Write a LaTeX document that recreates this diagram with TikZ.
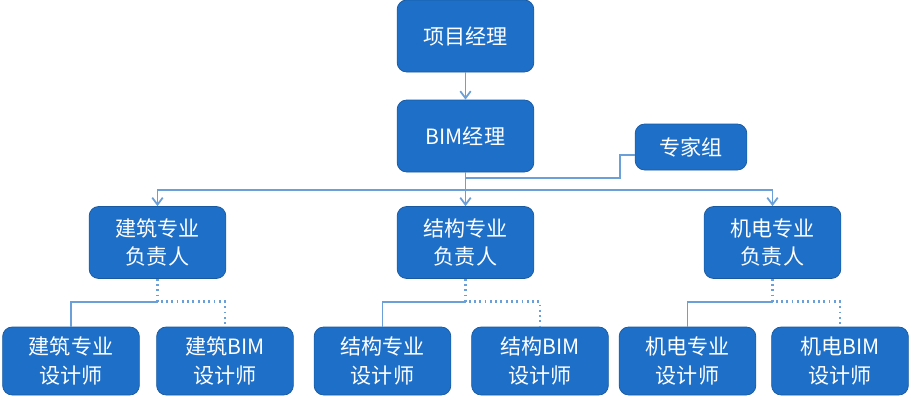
\documentclass[tikz,border=0pt]{standalone}
\usepackage{fontspec}
\setmainfont{Noto Sans CJK SC}
\usetikzlibrary{arrows.meta, calc}
\definecolor{boxblue}{HTML}{1E6FC8}
\definecolor{lineblue}{HTML}{6A9FD8}
\tikzset{
	every node/.style={
		font=\fontsize{12}{16}\selectfont
	},
	chefe/.style={
		shape=rectangle,
		minimum width=2.7cm,
		minimum height=1.44cm,
		text width=2.5cm,
		align=center,
		rounded corners=1ex,
		fill=boxblue,
		draw=boxblue!80!black,
		text=white
	},
	membro/.style={
		chefe,
		minimum width=2.66cm,
		minimum height=1.36cm
	},
	grupo/.style={
		chefe,
		minimum width=2.16cm,
		minimum height=0.92cm,
		text width=2cm
	},
	liga/.style={lineblue, line width=1pt},
	ligaseta/.style={liga, -{Straight Barb[length=4pt,width=6pt]}},
	pontos/.style={liga, dotted, line width=1.6pt}
}

\begin{document}
\begin{tikzpicture}
	\useasboundingbox (0,0) rectangle (18.2,-8.08);
	
	\node[chefe] (gerente) at (9.31,-0.72) {项目经理};
	\node[chefe] (bim) at (9.31,-2.72) {BIM经理};
	\node[grupo] (peritos) at (13.82,-2.94) {专家组};
	
	\node[chefe] (arq) at (3.15,-4.85) {建筑专业\\负责人};
	\node[chefe] (est) at (9.31,-4.85) {结构专业\\负责人};
	\node[chefe] (mep) at (15.45,-4.85) {机电专业\\负责人};
	
	\node[membro] (arqA) at (1.42,-7.22) {建筑专业\\设计师};
	\node[membro] (arqB) at (4.5,-7.22) {建筑BIM\\设计师};
	\node[membro] (estA) at (7.65,-7.22) {结构专业\\设计师};
	\node[membro] (estB) at (10.8,-7.22) {结构BIM\\设计师};
	\node[membro] (mepA) at (13.75,-7.22) {机电专业\\设计师};
	\node[membro] (mepB) at (16.8,-7.22) {机电BIM\\设计师};
	
	% gerente -> bim
	\draw[ligaseta] (gerente) -- (bim);
	
	% bim -> responsaveis
	\coordinate (ramo) at ($(bim.south)+(0,-0.36)$);
	\draw[liga] (bim.south) -- (ramo);
	\draw[ligaseta] (ramo) -| (arq.north);
	\draw[ligaseta] (ramo) -- (est.north);
	\draw[ligaseta] (ramo) -| (mep.north);
	\draw[liga] (peritos.west |- 0,-3.1) -- ++(-0.3,0) |- (bim.south |- 0,-3.56);
	
	% responsaveis -> projetistas
	\foreach \pai/\a/\b in {arq/arqA/arqB, est/estA/estB, mep/mepA/mepB} {
		\coordinate (meio) at ($(\pai.south)+(0,-0.46)$);
		\draw[pontos] (\pai.south) -- (meio) -| (\b.north);
		\draw[liga] (meio) -| (\a.north);
	}
	
\end{tikzpicture}
\end{document}
